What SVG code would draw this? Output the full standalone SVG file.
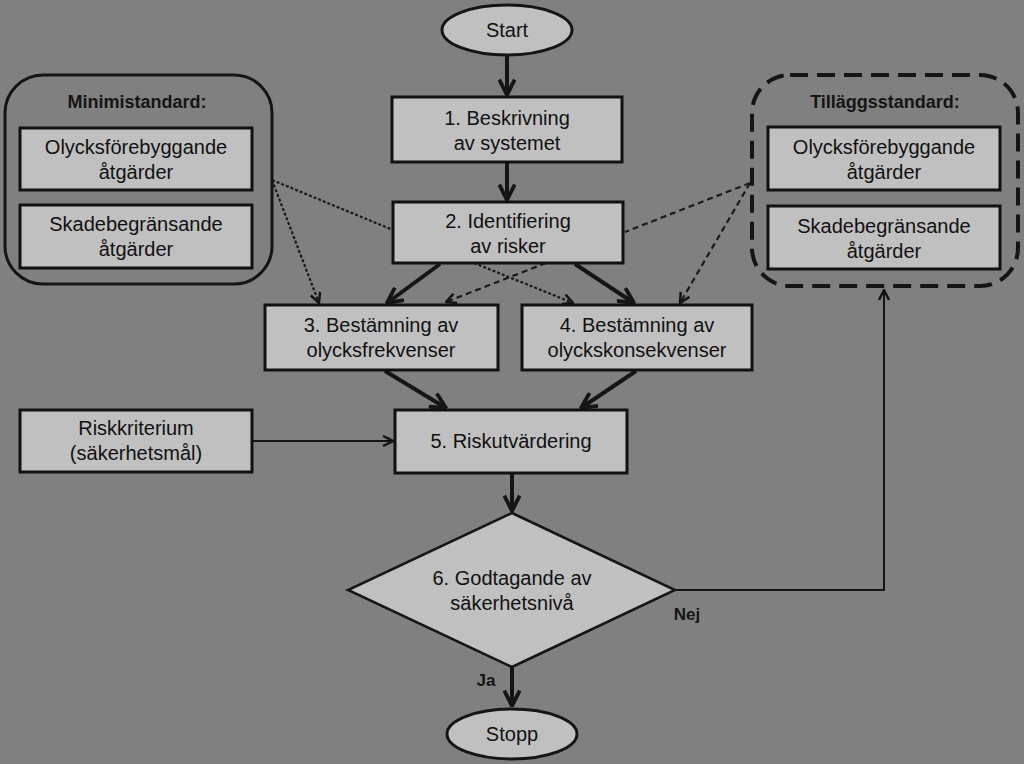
<svg xmlns="http://www.w3.org/2000/svg" width="1024" height="764" viewBox="0 0 1024 764">
<style>
.bg{fill:#808080}
.box{fill:#c0c0c0;stroke:#111;stroke-width:3}
.t{font-family:"Liberation Sans",Arial,sans-serif;font-size:20px;fill:#111;text-anchor:middle}
.lb{font-family:"Liberation Sans",Arial,sans-serif;font-size:18px;font-weight:bold;fill:#151515;text-anchor:middle}
.thick{stroke:#151515;stroke-width:4;fill:none}
.dot{stroke:#1a1a1a;stroke-width:2.2;stroke-dasharray:3 2;fill:none}
.dash{stroke:#1a1a1a;stroke-width:2.2;stroke-dasharray:6 4;fill:none}
.thin{stroke:#151515;stroke-width:2;fill:none}
</style>
<defs>
<marker id="ah" viewBox="0 0 12 12" refX="11" refY="6" markerWidth="12" markerHeight="12" markerUnits="userSpaceOnUse" orient="auto">
<path d="M1,1 L11,6 L1,11" fill="none" stroke="#151515" stroke-width="2.5"/>
</marker>
<marker id="ahB" viewBox="0 0 14 14" refX="13" refY="7" markerWidth="18" markerHeight="18" markerUnits="userSpaceOnUse" orient="auto">
<path d="M1,1 L13,7 L1,13" fill="none" stroke="#151515" stroke-width="3"/>
</marker>
</defs>
<rect class="bg" x="0" y="0" width="1024" height="764"/>

<g id="connectors">
<line class="thick" x1="507" y1="56" x2="507" y2="95" marker-end="url(#ahB)"/>
<line class="thick" x1="507" y1="163" x2="507" y2="200" marker-end="url(#ahB)"/>
<line class="thick" x1="440" y1="264" x2="387" y2="303" marker-end="url(#ahB)"/>
<line class="thick" x1="575" y1="264" x2="634" y2="303" marker-end="url(#ahB)"/>
<line class="thick" x1="385" y1="371" x2="446" y2="408" marker-end="url(#ahB)"/>
<line class="thick" x1="636" y1="371" x2="581" y2="408" marker-end="url(#ahB)"/>
<line class="thick" x1="512" y1="474" x2="512" y2="511" marker-end="url(#ahB)"/>
<line class="thick" x1="512" y1="667" x2="512" y2="706" marker-end="url(#ahB)"/>
<line class="thin" x1="253" y1="441" x2="393" y2="441" marker-end="url(#ah)"/>
<polyline class="thin" points="675,590 884,590 884,290" marker-end="url(#ah)"/>
<line class="dot" x1="272" y1="180" x2="393" y2="230"/>
<line class="dot" x1="474" y1="263" x2="573" y2="303" marker-end="url(#ah)"/>
<line class="dot" x1="272" y1="180" x2="319" y2="303" marker-end="url(#ah)"/>
<line class="dash" x1="750" y1="183" x2="625" y2="232"/>
<line class="dash" x1="546" y1="263" x2="446" y2="302" marker-end="url(#ah)"/>
<line class="dash" x1="750" y1="183" x2="680" y2="303" marker-end="url(#ah)"/>
</g>

<g id="minimistandard">
<rect x="5" y="75" width="267" height="209" rx="38" fill="none" stroke="#151515" stroke-width="3"/>
<text class="lb" x="137" y="108">Minimistandard:</text>
</g>
<g id="min1"><rect class="box" x="20" y="128" width="232" height="62"/><text class="t" x="136" y="154">Olycksförebyggande</text><text class="t" x="136" y="179">åtgärder</text></g>
<g id="min2"><rect class="box" x="20" y="205" width="232" height="63"/><text class="t" x="136" y="231">Skadebegränsande</text><text class="t" x="136" y="256">åtgärder</text></g>

<g id="tillaggsstandard">
<rect x="752" y="75" width="266" height="211" rx="38" fill="none" stroke="#151515" stroke-width="4" stroke-dasharray="18 9"/>
<text class="lb" x="885" y="108">Tilläggsstandard:</text>
</g>
<g id="til1"><rect class="box" x="768" y="127" width="232" height="63"/><text class="t" x="884" y="154">Olycksförebyggande</text><text class="t" x="884" y="179">åtgärder</text></g>
<g id="til2"><rect class="box" x="768" y="206" width="232" height="63"/><text class="t" x="884" y="233">Skadebegränsande</text><text class="t" x="884" y="258">åtgärder</text></g>

<g id="start"><ellipse cx="507" cy="30" rx="65" ry="25" fill="#c0c0c0" stroke="#151515" stroke-width="3"/><text class="t" x="507" y="37">Start</text></g>
<g id="n1"><rect class="box" x="392" y="97" width="230" height="65"/><text class="t" x="507" y="125">1. Beskrivning</text><text class="t" x="507" y="150">av systemet</text></g>
<g id="n2"><rect class="box" x="393" y="202" width="230" height="61"/><text class="t" x="508" y="228">2. Identifiering</text><text class="t" x="508" y="253">av risker</text></g>
<g id="n3"><rect class="box" x="265" y="305" width="233" height="65"/><text class="t" x="381" y="332">3. Bestämning av</text><text class="t" x="381" y="357">olycksfrekvenser</text></g>
<g id="n4"><rect class="box" x="522" y="305" width="230" height="65"/><text class="t" x="637" y="332">4. Bestämning av</text><text class="t" x="637" y="357">olyckskonsekvenser</text></g>
<g id="risk"><rect class="box" x="20" y="410" width="232" height="62"/><text class="t" x="136" y="435">Riskkriterium</text><text class="t" x="136" y="460">(säkerhetsmål)</text></g>
<g id="n5"><rect class="box" x="395" y="410" width="232" height="63"/><text class="t" x="511" y="448">5. Riskutvärdering</text></g>
<g id="n6"><polygon points="512,513 675,590 512,667 348,590" fill="#c0c0c0" stroke="#151515" stroke-width="2.5"/><text class="t" x="512" y="585">6. Godtagande av</text><text class="t" x="512" y="610">säkerhetsnivå</text></g>
<g id="stopp"><ellipse cx="512" cy="734" rx="65" ry="25" fill="#c0c0c0" stroke="#151515" stroke-width="3"/><text class="t" x="512" y="741">Stopp</text></g>
<text class="lb" x="687" y="620" style="font-size:17px">Nej</text>
<text class="lb" x="486" y="686" style="font-size:17px">Ja</text>
</svg>
